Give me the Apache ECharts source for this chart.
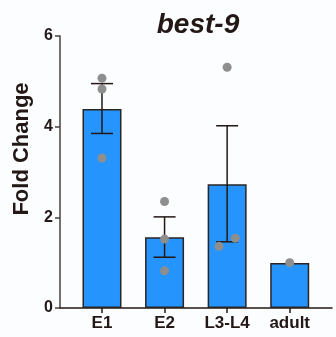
<!DOCTYPE html>
<html><head><meta charset="utf-8">
<script src="https://cdn.jsdelivr.net/npm/echarts@6/dist/echarts.min.js"></script>
<style>html,body{margin:0;padding:0;background:#fbfdff}#c{width:336px;height:337px}</style>
</head><body><div id="c"></div>
<script>
const categories = ['E1', 'E2', 'L3-L4', 'adult'];
const means = [4.39, 1.56, 2.73, 0.99];
const errLow = [3.85, 1.12, 1.46, null];
const errHigh = [4.95, 2.01, 4.02, null];
const pointGroup = [0, 0, 0, 1, 1, 1, 2, 2, 2, 3];
const pointValues = [5.07, 4.83, 3.31, 2.35, 1.52, 0.82, 5.31, 1.36, 1.54, 1.0];
const pointJitter = [0, 0, 0, 0, 0, 0, 0, -0.13, 0.13, 0];
const yTicks = [0, 2, 4, 6];

const ink = '#231815';
const font = 'Liberation Sans, Arial, sans-serif';

const chart = echarts.init(document.getElementById('c'), null, {renderer: 'canvas'});
chart.setOption({
  backgroundColor: '#fbfdff',
  animation: false,
  title: {
    text: 'best-9', left: 193, top: 6, textAlign: 'center',
    textStyle: {fontFamily: font, fontSize: 28, fontWeight: 'bold', fontStyle: 'italic', color: ink}
  },
  grid: [
    {left: 60, right: 4, top: 36, bottom: 29},
    {left: 70.7, right: 15, top: 36, bottom: 29}
  ],
  xAxis: [
    {gridIndex: 0, type: 'value', min: 0, max: 1, axisLine: {show: true, onZero: false, lineStyle: {color: ink, width: 1.5}},
     axisTick: {show: false}, axisLabel: {show: false}, splitLine: {show: false}},
    {gridIndex: 1, type: 'category', data: categories, axisLine: {show: false},
     axisTick: {show: true, alignWithLabel: true, length: 5, lineStyle: {color: ink, width: 1.5}},
     axisLabel: {fontFamily: font, fontSize: 17, fontWeight: 'bold', color: ink, margin: 7}},
    {gridIndex: 1, type: 'value', min: -0.5, max: 3.5, show: false}
  ],
  yAxis: [
    {gridIndex: 0, type: 'value', min: yTicks[0], max: yTicks[yTicks.length - 1], interval: 2,
     axisLine: {show: true, lineStyle: {color: '#4a403d', width: 1.5}},
     axisTick: {show: true, length: 5, lineStyle: {color: '#4a403d', width: 1.5}},
     axisLabel: {fontFamily: font, fontSize: 16, fontWeight: 'bold', color: ink, margin: 7},
     splitLine: {show: false},
     name: 'Fold Change', nameLocation: 'middle', nameGap: 21,
     nameTextStyle: {fontFamily: font, fontSize: 22, fontWeight: 'bold', color: ink, padding: [0, 0, 0, 46]}},
    {gridIndex: 1, type: 'value', min: 0, max: 6, show: false}
  ],
  series: [
    {type: 'bar', xAxisIndex: 1, yAxisIndex: 1, data: means, barWidth: 39,
     itemStyle: {color: '#2595fd', borderColor: '#2b2422', borderWidth: 1.5}, z: 2},
    {type: 'custom', xAxisIndex: 1, yAxisIndex: 1, z: 3,
     data: categories.map((c, i) => [i, errLow[i], errHigh[i]]).filter(d => d[1] != null),
     renderItem: function (params, api) {
       const lo = api.coord([api.value(0), api.value(1)]);
       const hi = api.coord([api.value(0), api.value(2)]);
       const hw = 11;
       const st = {stroke: ink, lineWidth: 1.5};
       return {type: 'group', children: [
         {type: 'line', shape: {x1: hi[0], y1: hi[1], x2: lo[0], y2: lo[1]}, style: st},
         {type: 'line', shape: {x1: hi[0] - hw, y1: hi[1], x2: hi[0] + hw, y2: hi[1]}, style: st},
         {type: 'line', shape: {x1: lo[0] - hw, y1: lo[1], x2: lo[0] + hw, y2: lo[1]}, style: st}
       ]};
     }},
    {type: 'scatter', xAxisIndex: 2, yAxisIndex: 1, z: 4, symbolSize: 9,
     itemStyle: {color: '#8e8e8e', opacity: 1},
     data: pointValues.map((v, i) => [pointGroup[i] + pointJitter[i], v])}
  ]
});
</script></body></html>
